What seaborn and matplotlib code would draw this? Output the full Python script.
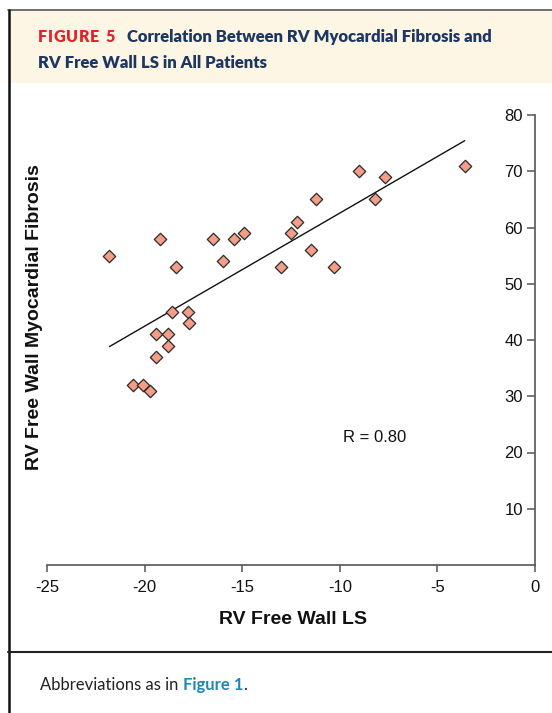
import numpy as np
import pandas as pd
import matplotlib
matplotlib.use("Agg")
import matplotlib.pyplot as plt
import seaborn as sns
from matplotlib.patches import Rectangle
from matplotlib.lines import Line2D

# data
rv_ls = [-21.8, -19.2, -18.4, -16.5, -16.0, -15.4, -14.9, -18.6, -17.8, -17.7,
         -19.4, -18.8, -18.8, -19.4, -20.6, -20.1, -19.7, -3.6, -9.0, -7.7,
         -8.2, -11.2, -12.2, -12.5, -11.5, -13.0, -10.3]
rv_fibrosis = [55, 58, 53, 58, 54, 58, 59, 45, 45, 43,
               41, 41, 39, 37, 32, 32, 31, 71, 70, 69,
               65, 65, 61, 59, 56, 53, 53]
x_ticks = [-25, -20, -15, -10, -5, 0]
y_ticks = [10, 20, 30, 40, 50, 60, 70, 80]
r_text = "R = 0.80"

df = pd.DataFrame({"ls": rv_ls, "fib": rv_fibrosis})

sns.set_style("white")
plt.rcParams["font.family"] = ["Liberation Sans", "DejaVu Sans"]

fig = plt.figure(figsize=(5.52, 7.13), dpi=100)
W, H = 552, 713

def fx(px):
    return px / W

def fy(py):
    return 1 - py / H

# header panel and frame
fig.add_artist(Rectangle((fx(9), fy(83)), fx(552 - 9), (83 - 11) / H,
                         facecolor="#fdf6e4", edgecolor="none", transform=fig.transFigure))
fig.add_artist(Line2D([fx(8), 1], [fy(10), fy(10)], color="#555555", lw=1.2, transform=fig.transFigure))
fig.add_artist(Line2D([fx(8.5), fx(8.5)], [fy(10), 0], color="#111111", lw=1.8, transform=fig.transFigure))
fig.add_artist(Line2D([fx(8), 1], [fy(652), fy(652)], color="#222222", lw=1.5, transform=fig.transFigure))

head_font = ["Lato", "DejaVu Sans"]
fig.canvas.draw()
renderer = fig.canvas.get_renderer()

# letter-spaced "FIGURE 5"
xpos = 38
for ch in "FIGURE 5":
    t = fig.text(fx(xpos), fy(42), ch, color="#e2232a", fontsize=11.5, fontweight="heavy",
                 family=head_font, va="baseline", ha="left")
    xpos = t.get_window_extent(renderer).x1 + 0.7
    if ch == " ":
        xpos += 1.5

fig.text(fx(127), fy(42), "Correlation Between RV Myocardial Fibrosis and", color="#1c3764",
         fontsize=12, fontweight="heavy", family=head_font, va="baseline", ha="left")
fig.text(fx(38), fy(68), "RV Free Wall LS in All Patients", color="#1c3764",
         fontsize=12, fontweight="heavy", family=head_font, va="baseline", ha="left")

# caption
t1 = fig.text(fx(40), fy(690), "Abbreviations as in ", color="#222222", fontsize=12,
              family=head_font, va="baseline", ha="left")
bb = t1.get_window_extent(renderer)
t2 = fig.text(bb.x1 / W, fy(690), "Figure 1", color="#1e88b8", fontsize=12, fontweight="bold",
              family=head_font, va="baseline", ha="left")
bb2 = t2.get_window_extent(renderer)
fig.text(bb2.x1 / W, fy(690), ".", color="#222222", fontsize=12,
         family=head_font, va="baseline", ha="left")

# plot area
ax = fig.add_axes([fx(47), fy(565), (535 - 47) / W, (565 - 115) / H])
sns.regplot(data=df, x="ls", y="fib", ax=ax, ci=None, scatter=False,
            line_kws={"color": "#111111", "lw": 1.0})
sns.scatterplot(data=df, x="ls", y="fib", ax=ax, marker="D", s=40,
                color="#f49e88", edgecolor="#2a2a2a", linewidth=0.9, zorder=3)

ax.set_xlim(-25, 0)
ax.set_ylim(0, 80)
ax.set_xticks(x_ticks)
ax.set_xticklabels([str(t) for t in x_ticks])
ax.set_yticks(y_ticks)
ax.set_yticklabels([str(t) for t in y_ticks])

ax.spines["top"].set_visible(False)
ax.spines["left"].set_visible(False)
for s in ["right", "bottom"]:
    ax.spines[s].set_visible(True)
    ax.spines[s].set_color("#555555")
    ax.spines[s].set_linewidth(1.2)
    ax.spines[s].set_zorder(4)
    ax.spines[s].set_clip_on(False)

# y ticks sit on the right spine, labels to its left
ax.yaxis.set_ticks_position("right")
ax.tick_params(axis="y", right=True, left=False, labelright=True, labelleft=False,
               direction="in", length=6, width=1.1, color="#555555",
               labelsize=12, labelcolor="#111111", pad=-8.6)
for tk in ax.yaxis.get_major_ticks():
    tk.label2.set_horizontalalignment("right")
ax.tick_params(axis="x", bottom=True, direction="out", length=5, width=1.1, color="#555555",
               labelsize=12, labelcolor="#111111", pad=6)

ax.set_xlabel("RV Free Wall LS", fontsize=14, fontweight="bold", color="#111111")
ax.set_ylabel("RV Free Wall Myocardial Fibrosis", fontsize=14, fontweight="bold", color="#111111")
ax.yaxis.set_label_position("left")
ax.xaxis.set_label_coords(0.504, -0.102)
ax.yaxis.set_label_coords(-0.025, 0.551)
ax.yaxis.label.set_va("center")

ax.text(-8.2, 22.7, r_text, fontsize=12, color="#111111", ha="center", va="center")

fig.savefig("out.png", dpi=100)
